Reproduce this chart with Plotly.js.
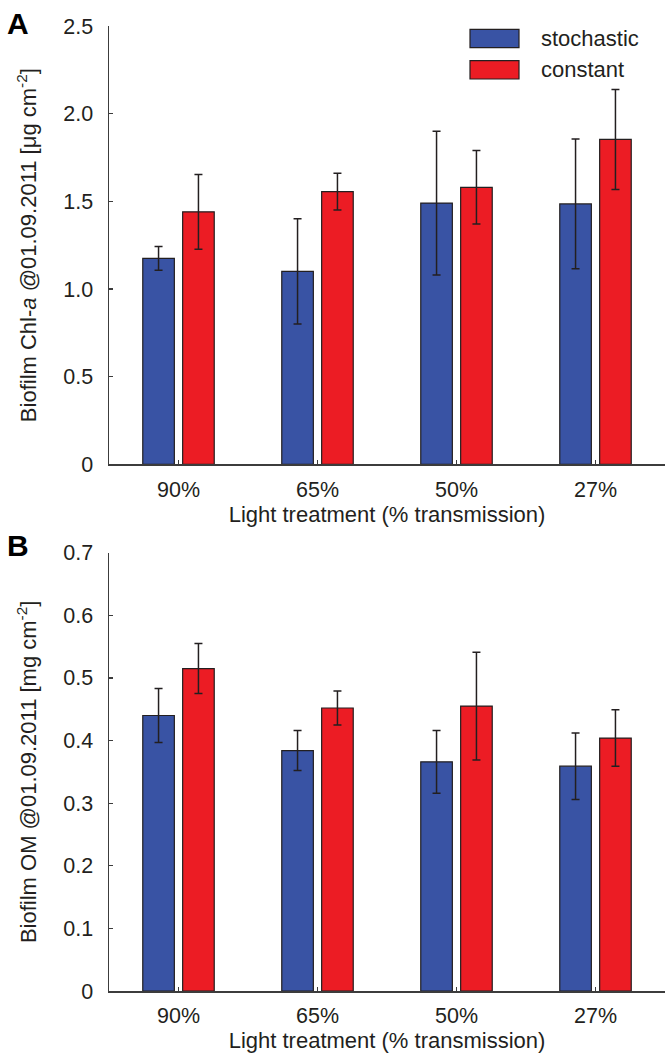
<!DOCTYPE html>
<html>
<head>
<meta charset="utf-8">
<script src="https://cdn.plot.ly/plotly-3.0.1.min.js"></script>
<style>html,body{margin:0;padding:0;background:#fff;}#chart{width:672px;height:1058px;}</style>
</head>
<body>
<div id="chart"></div>
<script>
// ---- data ----
const categories = ["90%", "65%", "50%", "27%"];
const seriesNames = ["stochastic", "constant"];

const chlStochastic    = [1.175, 1.10, 1.49, 1.485];
const chlStochasticErr = [0.068, 0.30, 0.41, 0.37];
const chlConstant      = [1.44, 1.555, 1.58, 1.853];
const chlConstantErr   = [0.213, 0.105, 0.21, 0.285];

const omStochastic     = [0.440, 0.384, 0.366, 0.359];
const omStochasticErr  = [0.043, 0.032, 0.050, 0.053];
const omConstant       = [0.515, 0.452, 0.455, 0.404];
const omConstantErr    = [0.040, 0.027, 0.086, 0.045];

const chlTickVals = [0, 0.5, 1.0, 1.5, 2.0, 2.5];
const chlTickText = ["0", "0.5", "1.0", "1.5", "2.0", "2.5"];
const omTickVals  = [0, 0.1, 0.2, 0.3, 0.4, 0.5, 0.6, 0.7];
const omTickText  = ["0", "0.1", "0.2", "0.3", "0.4", "0.5", "0.6", "0.7"];

// ---- style ----
const BLUE = "#3953a4";
const RED = "#ec1c24";
const INK = "#231f20";
const AXIS = "#3c3c3c";
const FONT = "Liberation Sans, Arial, sans-serif";

const W = 672, H = 1058;
const M = {l: 109, r: 7, t: 26, b: 67};
const plotW = W - M.l - M.r;
const plotH = H - M.t - M.b;
const px2x = p => (p - M.l) / plotW;
const py2y = p => (H - M.b - p) / plotH;

function barTrace(name, color, y, err, xa, ya) {
  return {
    type: "bar", name: name, x: categories, y: y,
    xaxis: xa, yaxis: ya, showlegend: false,
    marker: {color: color, line: {color: INK, width: 1.2}},
    error_y: {type: "data", array: err, visible: true, color: INK, thickness: 1.5, width: 4}
  };
}

const data = [
  barTrace(seriesNames[0], BLUE, chlStochastic, chlStochasticErr, "x", "y"),
  barTrace(seriesNames[1], RED, chlConstant, chlConstantErr, "x", "y"),
  barTrace(seriesNames[0], BLUE, omStochastic, omStochasticErr, "x2", "y2"),
  barTrace(seriesNames[1], RED, omConstant, omConstantErr, "x2", "y2")
];

const tickFont = {family: FONT, size: 21.5, color: INK};
const titleFont = {family: FONT, size: 22, color: INK};

function xAxis(anchor) {
  return {
    anchor: anchor, domain: [0, 1], type: "category",
    showline: true, linecolor: AXIS, linewidth: 1.5,
    ticks: "inside", ticklen: 4, tickwidth: 1.2, tickcolor: AXIS,
    showgrid: false, zeroline: false, tickfont: tickFont,
    ticklabelstandoff: 5,
    title: {text: "Light treatment (% transmission)", font: titleFont, standoff: 3}
  };
}
function yAxis(anchor, domain, range, tv, tt, title) {
  return {
    anchor: anchor, domain: domain, range: range,
    tickvals: tv, ticktext: tt,
    showline: true, linecolor: AXIS, linewidth: 1.5,
    ticks: "inside", ticklen: 4, tickwidth: 1.2, tickcolor: AXIS,
    showgrid: false, zeroline: false, tickfont: tickFont,
    ticklabelstandoff: 10,
    title: {text: title, font: titleFont, standoff: 20}
  };
}

const domA = [py2y(464.3), 1];
const domB = [0, py2y(552.7)];

const legendShapes = [];
const legendAnn = [];
[[BLUE, 38.5], [RED, 69.8]].forEach((c, i) => {
  legendShapes.push({type: "rect", xref: "paper", yref: "paper",
    x0: px2x(470), x1: px2x(519), y0: py2y(c[1] - 9.2), y1: py2y(c[1] + 9.2),
    fillcolor: c[0], line: {color: INK, width: 1.2}});
  legendAnn.push({xref: "paper", yref: "paper", x: px2x(539), y: py2y(c[1]),
    xanchor: "left", yanchor: "middle", showarrow: false, text: seriesNames[i],
    font: {family: FONT, size: 22, color: INK}});
});

const layout = {
  width: W, height: H,
  margin: M,
  paper_bgcolor: "#fff", plot_bgcolor: "#fff",
  barmode: "group", bargap: 0.426, bargroupgap: 0.208,
  showlegend: false,
  font: {family: FONT, color: INK},
  xaxis: xAxis("y"),
  xaxis2: xAxis("y2"),
  yaxis: yAxis("x", domA, [0, 2.5], chlTickVals, chlTickText,
    "Biofilm Chl-<i>a</i> @01.09.2011 [μg cm<sup>-2</sup>]"),
  yaxis2: yAxis("x2", domB, [0, 0.7], omTickVals, omTickText,
    "Biofilm OM @01.09.2011 [mg cm<sup>-2</sup>]"),
  shapes: legendShapes,
  annotations: legendAnn.concat([
    {xref: "paper", yref: "paper", x: px2x(5), y: py2y(5), xanchor: "left", yanchor: "top",
     showarrow: false, text: "<b>A</b>", font: {family: FONT, size: 30, color: "#000"}},
    {xref: "paper", yref: "paper", x: px2x(5), y: py2y(527), xanchor: "left", yanchor: "top",
     showarrow: false, text: "<b>B</b>", font: {family: FONT, size: 30, color: "#000"}}
  ])
};

Plotly.newPlot("chart", data, layout, {staticPlot: true, displayModeBar: false});
</script>
</body>
</html>
